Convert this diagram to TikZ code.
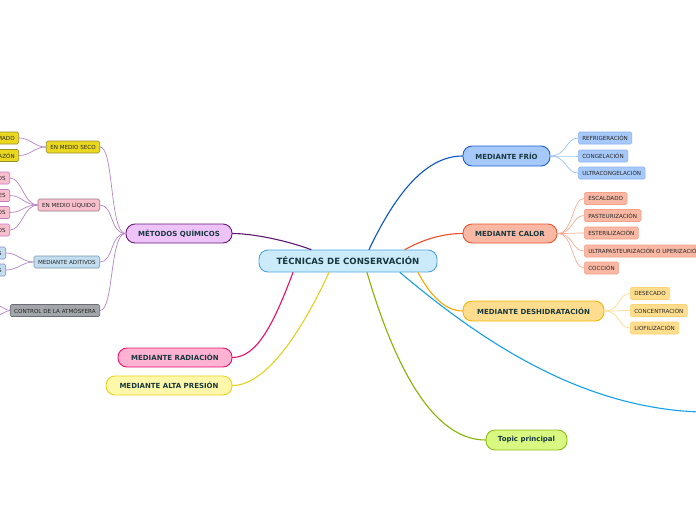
\documentclass[tikz,border=0pt]{standalone}
\usepackage{fontspec}
\setmainfont{DejaVu Sans}
\begin{document}
\definecolor{textc}{HTML}{17383F}
\definecolor{smalltext}{HTML}{262626}
\definecolor{cenfill}{HTML}{CBEBFB}\definecolor{cenline}{HTML}{4EA6E0}
\definecolor{quifill}{HTML}{EEC3F8}\definecolor{quiline}{HTML}{6A1B7A}\definecolor{quicon}{HTML}{5E1870}
\definecolor{frifill}{HTML}{A7C9F9}\definecolor{friline}{HTML}{1E5FD0}\definecolor{fricon}{HTML}{0A55C8}
\definecolor{calfill}{HTML}{F9B8A4}\definecolor{calline}{HTML}{E9562D}\definecolor{calcon}{HTML}{E9502A}
\definecolor{desfill}{HTML}{FFDD8E}\definecolor{desline}{HTML}{F5B800}\definecolor{descon}{HTML}{F5A800}
\definecolor{radfill}{HTML}{FFB2D2}\definecolor{radline}{HTML}{E8126E}\definecolor{radcon}{HTML}{E8106A}
\definecolor{prefill}{HTML}{FFF8AA}\definecolor{preline}{HTML}{E6D420}\definecolor{precon}{HTML}{E6D020}
\definecolor{topfill}{HTML}{D8F882}\definecolor{topline}{HTML}{8CBE12}\definecolor{topcon}{HTML}{86B400}
\definecolor{skycon}{HTML}{14A0EA}
\definecolor{sfriline}{HTML}{8CB4F2}\definecolor{sfricon}{HTML}{9EC2F5}
\definecolor{scalline}{HTML}{F5A088}\definecolor{scalcon}{HTML}{F9AE98}
\definecolor{sdesline}{HTML}{FFD372}\definecolor{sdescon}{HTML}{FFDC90}
\definecolor{squicon}{HTML}{B585C8}
\definecolor{secofill}{HTML}{E9D81E}\definecolor{secoline}{HTML}{9A8C30}
\definecolor{liqfill}{HTML}{F8C0CC}\definecolor{liqline}{HTML}{9A7A84}\definecolor{liqchild}{HTML}{C878BE}
\definecolor{adifill}{HTML}{C2DDF0}\definecolor{adiline}{HTML}{7A94A6}\definecolor{adichild}{HTML}{8A8AC8}
\definecolor{atmfill}{HTML}{A2A6AA}\definecolor{atmline}{HTML}{6A6E72}
\begin{tikzpicture}[x=1pt,y=-1pt,
  mainbox/.style={draw, line width=0.9pt, rounded corners=9pt, inner sep=0pt, font=\fontsize{7}{8}\selectfont\bfseries, text=textc},
  smallbox/.style={draw, line width=0.6pt, rounded corners=1.5pt, minimum height=12pt, inner xsep=4pt, inner ysep=0pt, font=\fontsize{5.6}{6}\selectfont, text=smalltext},
  conn/.style={line width=1.1pt, line cap=round},
  subconn/.style={line width=0.7pt},
]
\useasboundingbox (0,0) rectangle (696,520);
\clip (0,0) rectangle (696,520);
\fill[white] (0,0) rectangle (696,520);

% main nodes
\node[mainbox, fill=cenfill, draw=cenline, minimum width=178pt, minimum height=22pt, font=\fontsize{8.6}{10}\selectfont\bfseries] (c) at (348,261) {TÉCNICAS DE CONSERVACIÓN};
\node[mainbox, fill=quifill, draw=quiline, minimum width=106pt, minimum height=19pt] (qui) at (179,233.5) {MÉTODOS QUÍMICOS};
\node[mainbox, fill=frifill, draw=friline, minimum width=87pt, minimum height=20pt] (fri) at (506.5,156) {MEDIANTE FRÍO};
\node[mainbox, fill=calfill, draw=calline, minimum width=94pt, minimum height=19pt] (cal) at (510,233.5) {MEDIANTE CALOR};
\node[mainbox, fill=desfill, draw=desline, minimum width=141pt, minimum height=20pt] (des) at (533.5,311) {MEDIANTE DESHIDRATACIÓN};
\node[mainbox, fill=radfill, draw=radline, minimum width=114pt, minimum height=19pt] (rad) at (175,357.5) {MEDIANTE RADIACIÓN};
\node[mainbox, fill=prefill, draw=preline, minimum width=126pt, minimum height=19pt] (pre) at (169,385.5) {MEDIANTE ALTA PRESIÓN};
\node[mainbox, fill=topfill, draw=topline, minimum width=81pt, minimum height=20pt] (top) at (526.5,440) {Topic principal};
\coordinate (skyend) at (700,412);

% main connectors
\draw[conn, quicon] ([xshift=-37pt]c.north) .. controls (285,240) and (252,233.5) .. (qui.east);
\draw[conn, fricon] ([xshift=21pt]c.north) .. controls (395,195) and (425,156) .. (fri.west);
\draw[conn, calcon] ([xshift=57pt]c.north) .. controls (422,240) and (442,233.5) .. (cal.west);
\draw[conn, descon] ([xshift=70pt]c.south) .. controls (430,295) and (445,311) .. (des.west);
\draw[conn, radcon] ([xshift=-55pt]c.south) .. controls (275,320) and (258,357.5) .. (rad.east);
\draw[conn, precon] ([xshift=-19pt]c.south) .. controls (300,335) and (265,385.5) .. (pre.east);
\draw[conn, topcon] ([xshift=19pt]c.south) .. controls (400,385) and (440,440) .. (top.west);
\draw[conn, skycon] ([xshift=52pt]c.south) .. controls (480,340) and (580,408) .. (skyend);

% MEDIANTE FRIO children
\node[smallbox, fill=frifill, draw=sfriline, anchor=west] (f1) at (578,138) {REFRIGERACIÓN};
\node[smallbox, fill=frifill, draw=sfriline, anchor=west] (f2) at (578,156) {CONGELACIÓN};
\node[smallbox, fill=frifill, draw=sfriline, anchor=west] (f3) at (578,173) {ULTRACONGELACIÓN};
\foreach \n in {f1,f2,f3}
  \draw[subconn, sfricon] (fri.east) .. controls +(16,0) and +(-12,0) .. (\n.west);

% MEDIANTE CALOR children
\node[smallbox, fill=calfill, draw=scalline, anchor=west] (k1) at (584,198.5) {ESCALDADO};
\node[smallbox, fill=calfill, draw=scalline, anchor=west] (k2) at (584,215.5) {PASTEURIZACIÓN};
\node[smallbox, fill=calfill, draw=scalline, anchor=west] (k3) at (584,233) {ESTERILIZACIÓN};
\node[smallbox, fill=calfill, draw=scalline, anchor=west] (k4) at (584,251) {ULTRAPASTEURIZACIÓN O UPERIZACIÓN};
\node[smallbox, fill=calfill, draw=scalline, anchor=west] (k5) at (584,268) {COCCIÓN};
\foreach \n in {k1,k2,k3,k4,k5}
  \draw[subconn, scalcon] (cal.east) .. controls +(16,0) and +(-12,0) .. (\n.west);

% MEDIANTE DESHIDRATACION children
\node[smallbox, fill=desfill, draw=sdesline, anchor=west] (d1) at (630,293.5) {DESECADO};
\node[smallbox, fill=desfill, draw=sdesline, anchor=west] (d2) at (630,310.5) {CONCENTRACIÓN};
\node[smallbox, fill=desfill, draw=sdesline, anchor=west] (d3) at (630,328) {LIOFILIZACIÓN};
\foreach \n in {d1,d2,d3}
  \draw[subconn, sdescon] (des.east) .. controls +(16,0) and +(-12,0) .. (\n.west);

% METODOS QUIMICOS children
\node[smallbox, fill=secofill, draw=secoline, anchor=east] (q1) at (100,147) {EN MEDIO SECO};
\node[smallbox, fill=liqfill, draw=liqline, anchor=east] (q2) at (100,205) {EN MEDIO LÍQUIDO};
\node[smallbox, fill=adifill, draw=adiline, anchor=east] (q3) at (100,262) {MEDIANTE ADITIVOS};
\node[smallbox, fill=atmfill, draw=atmline, anchor=east] (q4) at (100,310.5) {CONTROL DE LA ATMÓSFERA};
\foreach \n in {q1,q2,q3,q4}
  \draw[subconn, squicon] (qui.west) .. controls +(-16,0) and +(14,0) .. (\n.east);

% EN MEDIO SECO children
\node[smallbox, fill=secofill, draw=secoline, anchor=east] (s1) at (19,138) {AHUMADO};
\node[smallbox, fill=secofill, draw=secoline, anchor=east] (s2) at (19,155.5) {SALAZÓN};
\foreach \n in {s1,s2}
  \draw[subconn, squicon] (q1.west) .. controls +(-12,0) and +(12,0) .. (\n.east);

% EN MEDIO LIQUIDO children
\node[smallbox, fill=liqfill, draw=liqchild, anchor=east] (l1) at (10,178) {ENCURTIDOS};
\node[smallbox, fill=liqfill, draw=liqchild, anchor=east] (l2) at (10,195.5) {ESCABECHES};
\node[smallbox, fill=liqfill, draw=liqchild, anchor=east] (l3) at (10,212.5) {ADOBADOS};
\node[smallbox, fill=liqfill, draw=liqchild, anchor=east] (l4) at (10,230) {CONFITADOS};
\foreach \n in {l1,l2,l3,l4}
  \draw[subconn, squicon] (q2.west) .. controls +(-14,0) and +(12,0) .. (\n.east);

% MEDIANTE ADITIVOS children
\node[smallbox, fill=adifill, draw=adichild, anchor=east] (a1) at (6,253) {CONSERVANTES};
\node[smallbox, fill=adifill, draw=adichild, anchor=east] (a2) at (6,270) {ANTIOXIDANTES};
\foreach \n in {a1,a2}
  \draw[subconn, squicon] (q3.west) .. controls +(-12,0) and +(12,0) .. (\n.east);

% CONTROL DE LA ATMOSFERA children (off frame)
\coordinate (t1) at (-4,305);
\coordinate (t2) at (-4,316);
\foreach \n in {t1,t2}
  \draw[subconn, squicon] (q4.west) .. controls +(-4,0) and +(4,0) .. (\n);
\end{tikzpicture}
\end{document}
